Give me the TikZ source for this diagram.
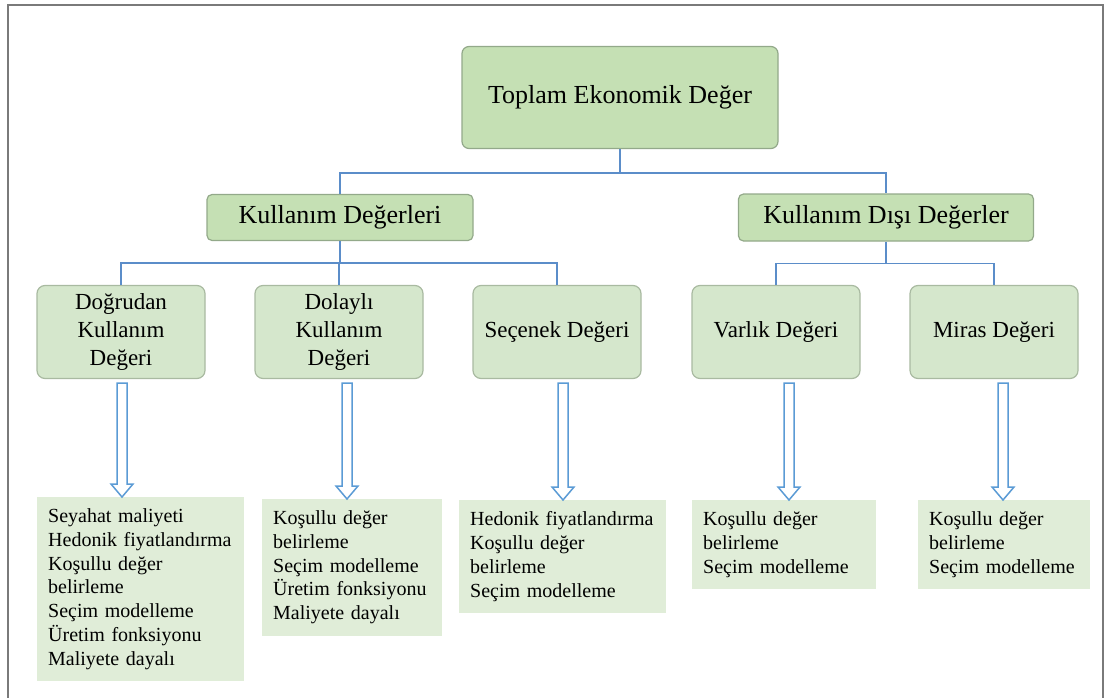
\documentclass[tikz,border=0pt]{standalone}
\usepackage{fontspec}
\setmainfont{Liberation Serif}
\usepackage{tikz}
\usetikzlibrary{calc}
\usetikzlibrary{positioning}
\definecolor{topgreen}{HTML}{C5E0B4}
\definecolor{midgreen}{HTML}{D5E7CC}
\definecolor{listgreen}{HTML}{E0EDD8}
\definecolor{boxedge}{HTML}{93A98A}
\definecolor{linkblue}{HTML}{5B8DC9}
\definecolor{arrowblue}{HTML}{5B9BD5}
\definecolor{framegray}{HTML}{7A7A7A}
\tikzset{
    bigbox/.style={draw=boxedge, fill=topgreen, line width=1.2pt, rounded corners=7pt,
      font=\fontsize{26}{30}\selectfont},
    valbox/.style={draw=boxedge!80, fill=midgreen, line width=1.2pt, rounded corners=8pt,
      minimum width=168pt, minimum height=93pt, align=center,
      font=\fontsize{23}{27.5}\selectfont},
    listbox/.style={fill=listgreen, anchor=north west, align=left, inner xsep=11pt,
      inner ysep=11.5pt, font=\fontsize{20}{23.8}\selectfont},
    link/.style={draw=linkblue, line width=1.5pt},
    hollow/.style={draw=arrowblue, line width=1.5pt, fill=white, line join=miter}
}

\begin{document}
\begin{tikzpicture}[x=1pt,y=-1pt]
\useasboundingbox (0,0) rectangle (1105,698);
\draw[framegray, line width=2pt] (8,698) -- (8,5) -- (1103,5) -- (1103,698);
% top levels
\node[bigbox, minimum width=316pt, minimum height=102pt] (top) at (620,97.5) {Toplam Ekonomik Değer};
\node[bigbox, rounded corners=5pt, minimum width=266pt, minimum height=46pt] (use) at (340,217.5) {Kullanım Değerleri};
\node[bigbox, rounded corners=5pt, minimum width=295pt, minimum height=47pt] (nonuse) at (886,217.5) {Kullanım Dışı Değerler};
% values
\node[valbox] (direct) at (121,332) {Doğrudan\\Kullanım\\Değeri};
\node[valbox] (indirect) at (339,332) {Dolaylı\\Kullanım\\Değeri};
\node[valbox] (option) at (557,332) {Seçenek Değeri};
\node[valbox] (exist) at (776,332) {Varlık Değeri};
\node[valbox] (bequest) at (994,332) {Miras Değeri};
% methods
\node[listbox, text width=185pt] (directlist) at (37,497) {Seyahat maliyeti\\Hedonik fiyatlandırma\\Koşullu değer\\belirleme\\Seçim modelleme\\Üretim fonksiyonu\\Maliyete dayalı};
\node[listbox, text width=158pt] (indirectlist) at (262,499) {Koşullu değer\\belirleme\\Seçim modelleme\\Üretim fonksiyonu\\Maliyete dayalı};
\node[listbox, text width=185pt] (optionlist) at (459,500) {Hedonik fiyatlandırma\\Koşullu değer\\belirleme\\Seçim modelleme};
\node[listbox, text width=162pt] (existlist) at (692,500) {Koşullu değer\\belirleme\\Seçim modelleme};
\node[listbox, text width=150pt] (bequestlist) at (918,500) {Koşullu değer\\belirleme\\Seçim modelleme};
% tree lines
\draw[link] (top.south) -- ++(0,24) coordinate (j1) -| (use.north);
\draw[link] (j1) -| (nonuse.north);
\draw[link] (use.south) -- ++(0,22) coordinate (j2) -| (direct.north);
\draw[link] (j2) -| (indirect.north);
\draw[link] (j2) -| (option.north);
\draw[link] (nonuse.south) -- ++(0,22) coordinate (j3) -| (exist.north);
\draw[link] (j3) -| (bequest.north);
% block arrows
\foreach \a/\b/\x in {direct/directlist/122, indirect/indirectlist/347, option/optionlist/563, exist/existlist/789, bequest/bequestlist/1003}{
  \coordinate (t) at ($(\x,0 |- \a.south)+(0,4)$);
  \coordinate (b) at (\x,0 |- \b.north);
  \draw[hollow] ($(t)+(-5,0)$) -- ($(b)+(-5,-13)$) -- ($(b)+(-11,-13)$) -- (b)
    -- ($(b)+(11,-13)$) -- ($(b)+(5,-13)$) -- ($(t)+(5,0)$) -- cycle;
}
\end{tikzpicture}
\end{document}
